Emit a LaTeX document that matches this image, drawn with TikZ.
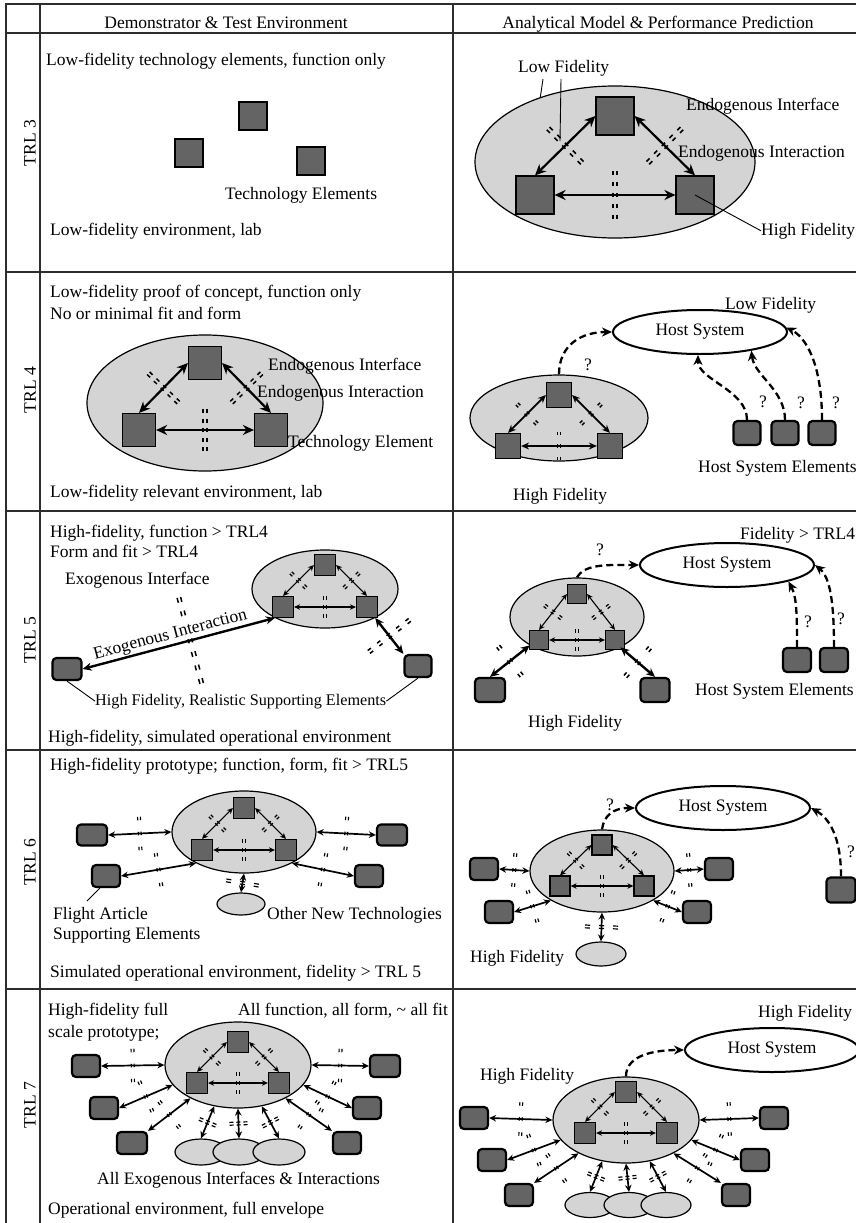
\documentclass[tikz,border=0pt]{standalone}
\usepackage{fontspec}
\setmainfont{Liberation Serif}
\usetikzlibrary{arrows.meta,calc,shapes.geometric}
\definecolor{sqgray}{RGB}{100,100,100}
\definecolor{ellgray}{RGB}{212,212,212}
\definecolor{tblc}{RGB}{45,45,45}
\newcommand{\fs}{\fontsize{17.5}{20}\selectfont}
\newcommand{\fss}{\fontsize{16.2}{19}\selectfont}
\newcommand{\mgap}{1.2pt}
\newcommand{\cml}{10.5}
% double dashed interface mark between two named points
\newcommand{\dmark}[3][]{%
  \draw[mk,#1] ($(#2)!\mgap!90:(#3)$) -- ($(#3)!\mgap!-90:(#2)$);
  \draw[mk,#1] ($(#2)!\mgap!-90:(#3)$) -- ($(#3)!\mgap!90:(#2)$);}
% interface mark across the middle of a connector
\newcommand{\xmark}[4][]{%
  \path ($(#2)!0.5!(#3)$) coordinate (xm);
  \path ($(xm)!#4pt!90:(#3)$) coordinate (xa);
  \path ($(xm)!#4pt!-90:(#3)$) coordinate (xb);
  \dmark[#1]{xa}{xb}}
% exogenous connector with its interface mark
\newcommand{\ext}[4][]{%
  \draw[earr] (#2) -- (#3);
  \xmark[emk,#1]{#2}{#3}{#4}}
% cluster: name, cx, cy, rx, ry, square size, dx, top offset, bottom offset
\newcommand{\clus}[9]{%
  \node[cl, minimum width={2*#4}, minimum height={2*#5}] (#1) at (#2,#3) {};
  \node[sq=#6] (#1t) at (#2,#3-#8) {};
  \node[sq=#6] (#1l) at (#2-#7,#3+#9) {};
  \node[sq=#6] (#1r) at (#2+#7,#3+#9) {};
  \draw[carr] (#1l.north) -- (#1t.west);
  \draw[carr] (#1t.east) -- (#1r.north);
  \draw[carr] (#1l.east) -- (#1r.west);
  \xmark[cmk]{#1l.north}{#1t.west}{\cml}
  \xmark[cmk]{#1t.east}{#1r.north}{\cml}
  \xmark[cmk]{#1l.east}{#1r.west}{\cml}}
\tikzset{
  tbl/.style={line width=1.5pt, draw=tblc},
  txt/.style={font=\fs, inner sep=0pt, anchor=base west},
  ctxt/.style={font=\fs, inner sep=0pt},
  trl/.style={font=\fs, inner sep=0pt, rotate=90},
  sq/.style={draw, fill=sqgray, line width=1.2pt, minimum size=#1, inner sep=0pt},
  sq/.default=20,
  el/.style={draw, fill=sqgray, line width=2.2pt, rounded corners=4pt, minimum width=28, minimum height=22, inner sep=0pt},
  cl/.style={draw, fill=ellgray, ellipse, line width=1.2pt, inner sep=0pt},
  host/.style={draw, ellipse, fill=white, line width=2pt, inner sep=0pt, minimum width=174, minimum height=44, font=\fs},
  harr/.style={line width=2.3pt, dash pattern=on 7pt off 4pt, -{Stealth[length=10pt,width=9pt]}},
  lead/.style={line width=0.9pt},
  thickarr/.style={line width=2.2pt, {Stealth[length=11pt,width=10pt]}-{Stealth[length=11pt,width=10pt]}},
  thinarr/.style={line width=1.1pt, {Stealth[length=6pt,width=5.5pt]}-{Stealth[length=6pt,width=5.5pt]}},
  medarr/.style={line width=1.7pt, {Stealth[length=7pt,width=6.5pt]}-{Stealth[length=7pt,width=6.5pt]}},
  bigarr/.style={line width=2.4pt, {Stealth[length=9pt,width=8pt]}-{Stealth[length=9pt,width=8pt]}},
  carr/.style={thinarr},
  earr/.style={medarr},
  mk/.style={line width=1.2pt, dash pattern=on 3pt off 6pt},
  cmk/.style={},
  emk/.style={},
}
\begin{document}
\begin{tikzpicture}[x=1pt,y=-1pt]
\useasboundingbox (0,0) rectangle (856,1223);
\fill[white] (0,0) rectangle (856,1223);

% ---------------- table ----------------
\draw[tbl] (6,1223) -- (6,4) -- (856,4);
\draw[tbl] (40,4) -- (40,1223);
\draw[tbl] (453,4) -- (453,1223);
\foreach \yy in {33,272,511,750,989} {\draw[tbl] (6,\yy) -- (856,\yy);}
\node[ctxt, anchor=base] (hd1) at (226,29) {Demonstrator \& Test Environment};
\node[ctxt, anchor=base] (hd2) at (658,29) {Analytical Model \& Performance Prediction};
\node[trl] (trl3) at (30,143) {TRL 3};
\node[trl] (trl4) at (30,390) {TRL 4};
\node[trl] (trl5) at (30,640) {TRL 5};
\node[trl] (trl6) at (30,862) {TRL 6};
\node[trl] (trl7) at (30,1105) {TRL 7};

% ---------------- TRL 3 left ----------------
\node[txt] (t3a) at (46,66) {Low-fidelity technology elements, function only};
\node[sq=28, line width=2pt] (s3a) at (253,116) {};
\node[sq=28, line width=2pt] (s3b) at (189,153) {};
\node[sq=28, line width=2pt] (s3c) at (311,161) {};
\node[txt] (t3b) at (225,199) {Technology Elements};
\node[txt] (t3c) at (50,235) {Low-fidelity environment, lab};

% ---------------- TRL 3 right ----------------
\begin{scope}[carr/.style={thickarr}, cmk/.style={line width=1.6pt, dash pattern=on 4.5pt off 6.5pt}]
\renewcommand{\cml}{24.25}\renewcommand{\mgap}{2pt}
\clus{c3}{615}{162}{140}{76}{38}{80}{46}{33}
\end{scope}
\node[txt] (lf3) at (518,72) {Low Fidelity};
\node[txt] (ei3) at (686,110) {Endogenous Interface};
\node[txt] (ex3) at (678,157) {Endogenous Interaction};
\node[txt] (hf3) at (761,235) {High Fidelity};
\coordinate (lf3a) at (543,79);
\coordinate (lf3b) at (561,79);
\coordinate (lf3c) at (560,141);
\draw[lead] (lf3a) -- (c3.139);
\draw[lead] (lf3b) -- (lf3c);
\draw[lead] (c3r.center) -- (hf3.west);

% ---------------- TRL 4 left ----------------
\node[txt] (t4a) at (50,297) {Low-fidelity proof of concept, function only};
\node[txt] (t4b) at (50,319) {No or minimal fit and form};
\begin{scope}[carr/.style={thickarr}, cmk/.style={line width=1.5pt, dash pattern=on 4pt off 5.5pt}]
\renewcommand{\cml}{21}\renewcommand{\mgap}{1.8pt}
\clus{c4}{205}{403}{118}{68}{33}{66}{40}{27}
\end{scope}
\node[txt] (ei4) at (268,370) {Endogenous Interface};
\node[txt] (ex4) at (257,397) {Endogenous Interaction};
\node[txt] (te4) at (288,447) {Technology Element};
\node[txt] (t4c) at (50,497) {Low-fidelity relevant environment, lab};

% ---------------- TRL 4 right ----------------
\node[host] (h4) at (700,332) {Host System};
\node[txt] (lf4) at (725,309) {Low Fidelity};
\begin{scope}[carr/.style={line width=1.8pt, {Stealth[length=8pt,width=7pt]}-{Stealth[length=8pt,width=7pt]}}, cmk/.style={line width=1.3pt, dash pattern=on 3.5pt off 9pt}]
\renewcommand{\cml}{14.25}\renewcommand{\mgap}{1.5pt}
\clus{c4r}{559}{418}{89}{43}{25}{51}{23}{28}
\end{scope}
\draw[harr] (c4r.north) .. controls +(0,-30) and +(-30,0) .. (h4.west);
\node[ctxt] (q4a) at (588,365) {?};
\node[el, minimum width=27, minimum height=24] (e4a) at (747,433) {};
\node[el, minimum width=27, minimum height=24] (e4b) at (785,433) {};
\node[el, minimum width=27, minimum height=24] (e4c) at (822,433) {};
\draw[harr] (e4a.north) .. controls +(0,-30) and +(0,25) .. (h4.265);
\draw[harr] (e4b.north) .. controls +(0,-30) and +(3,25) .. (h4.340);
\draw[harr] (e4c.north) .. controls +(0,-55) and +(20,10) .. (h4.3);
\node[ctxt] (q4b) at (763,402) {?};
\node[ctxt] (q4c) at (801,403) {?};
\node[ctxt] (q4d) at (836,403) {?};
\node[txt] (hse4) at (698,472) {Host System Elements};
\node[txt] (hf4) at (513,500) {High Fidelity};

% ---------------- TRL 5 left ----------------
\node[txt] (t5a) at (50,537) {High-fidelity, function > TRL4};
\node[txt] (t5b) at (50,557) {Form and fit > TRL4};
\node[txt] (xi5t) at (65,584) {Exogenous Interface};
\begin{scope}[cmk/.style={line width=1.2pt, dash pattern=on 3.5pt off 5.5pt}]
\renewcommand{\cml}{10.75}\renewcommand{\mgap}{1.4pt}
\clus{c5}{325}{589}{73}{39}{21}{42}{24}{18}
\end{scope}
\node[el, minimum width=29] (e5a) at (67,669) {};
\node[el, minimum width=27] (e5b) at (418,666) {};
\draw[bigarr] (e5a.east) -- (c5.210);
\path ($(e5a.east)!0.56!(c5.210)$) coordinate (xm5);
\path ($(xm5)!44.5pt!90:(c5.210)$) coordinate (xa5);
\path ($(xm5)!44.5pt!-90:(c5.210)$) coordinate (xb5);
\begin{scope}[mk/.style={line width=1.5pt, dash pattern=on 5pt off 9pt}]
\renewcommand{\mgap}{1.8pt}
\dmark{xa5}{xb5}
\end{scope}
\path (e5a.east) -- node[sloped, above, pos=0.47, font=\fs, inner sep=0.5pt, outer sep=1.8pt, fill=white] (exi5) {Exogenous Interaction} (c5.210);
\begin{scope}[earr/.style={bigarr}, emk/.style={line width=1.5pt, dash pattern=on 4pt off 8pt}]
\renewcommand{\mgap}{1.8pt}
\ext{c5.330}{e5b.north west}{26}
\end{scope}
\node[txt, font=\fss] (rse) at (95,705) {High Fidelity, Realistic Supporting Elements};
\draw[lead] (e5a.south) -- (rse.west);
\draw[lead] (e5b.south) -- (rse.east);
\node[txt] (t5c) at (48,742) {High-fidelity, simulated operational environment};

% ---------------- TRL 5 right ----------------
\node[txt] (ft5) at (740,539) {Fidelity > TRL4};
\node[host] (h5) at (727,565) {Host System};
\begin{scope}[cmk/.style={line width=1.2pt, dash pattern=on 3.5pt off 5.5pt}]
\renewcommand{\cml}{10.75}\renewcommand{\mgap}{1.4pt}
\clus{c5r}{577}{617}{67}{39}{19}{38}{23}{23}
\end{scope}
\draw[harr] (c5r.north) .. controls +(8,-14) and +(-30,0) .. (h5.west);
\node[ctxt] (q5a) at (600,550) {?};
\node[el, minimum width=30, minimum height=24] (e5c) at (490,690) {};
\node[el, minimum width=29, minimum height=24] (e5d) at (655,690) {};
\begin{scope}[earr/.style={bigarr}, emk/.style={line width=1.5pt, dash pattern=on 4pt off 13pt}]
\renewcommand{\mgap}{1.8pt}
\ext{e5c.north}{c5r.211}{19}
\ext{c5r.325}{e5d.north}{19}
\end{scope}
\node[el, minimum width=28, minimum height=24] (e5e) at (797,660) {};
\node[el, minimum width=28, minimum height=24] (e5f) at (834,660) {};
\draw[harr] (e5e.north) .. controls +(0,-35) and +(8,15) .. (h5.345);
\draw[harr] (e5f.north) .. controls +(0,-45) and +(15,12) .. (h5.east);
\node[ctxt] (q5b) at (808,622) {?};
\node[ctxt] (q5c) at (841,619) {?};
\node[txt] (hse5) at (695,695) {Host System Elements};
\node[txt] (hf5) at (528,727) {High Fidelity};

% ---------------- TRL 6 left ----------------
\node[txt] (t6a) at (50,770) {High-fidelity prototype; function, form, fit > TRL5};
\begin{scope}[cmk/.style={line width=1.2pt, dash pattern=on 3.5pt off 5.5pt}]
\renewcommand{\cml}{10.75}\renewcommand{\mgap}{1.4pt}
\clus{c6}{244}{832}{72}{41}{21}{42}{24}{18}
\end{scope}
\node[el, minimum width=30, minimum height=21] (e6a) at (92,835) {};
\node[el, minimum width=28, minimum height=22] (e6b) at (106,876) {};
\node[el, minimum width=30, minimum height=21] (e6c) at (392,835) {};
\node[el, minimum width=28, minimum height=22] (e6d) at (369,876) {};
\node[cl, minimum width=48, minimum height=22] (o6) at (241,904) {};
\begin{scope}[emk/.style={line width=1.2pt, dash pattern=on 3.5pt off 11.5pt}]
\renewcommand{\mgap}{1.4pt}
\ext{e6a.east}{c6.west}{16.75}
\ext{e6b.east}{c6.213}{16.75}
\ext{c6.east}{e6c.west}{16.75}
\ext{c6.327}{e6d.west}{16.75}
\ext[dash pattern=on 5pt off 9pt]{c6.south}{o6.north}{16.5}
\end{scope}
\node[txt] (fa6) at (53,919) {Flight Article};
\node[txt] (se6) at (53,939) {Supporting Elements};
\node[txt] (ont6) at (267,919) {Other New Technologies};
\coordinate (fa6p) at (87,901);
\draw[lead] ($(e6b.south)+(-6,0)$) -- (fa6p);
\node[txt] (t6c) at (50,977) {Simulated operational environment, fidelity > TRL 5};

% ---------------- TRL 6 right ----------------
\node[host] (h6) at (723,808) {Host System};
\begin{scope}[cmk/.style={line width=1.2pt, dash pattern=on 3.5pt off 5.5pt}]
\renewcommand{\cml}{10.75}\renewcommand{\mgap}{1.4pt}
\clus{c6r}{602}{871}{72}{41}{20}{42}{26}{15}
\end{scope}
\draw[harr] (c6r.north) .. controls +(2,-14) and +(-22,0) .. (h6.west);
\node[ctxt] (q6a) at (610,805) {?};
\node[el, minimum width=29, minimum height=25] (e6e) at (841,890) {};
\draw[harr] (e6e.north) .. controls +(0,-40) and +(18,10) .. (h6.east);
\node[ctxt] (q6b) at (851,852) {?};
\node[el] (e6f) at (484,869) {};
\node[el] (e6g) at (499,912) {};
\node[el] (e6h) at (719,869) {};
\node[el] (e6i) at (697,912) {};
\node[cl, minimum width=50, minimum height=24] (o6r) at (601,954) {};
\begin{scope}[emk/.style={line width=1.2pt, dash pattern=on 3.5pt off 11.5pt}]
\renewcommand{\mgap}{1.4pt}
\ext{e6f.east}{c6r.west}{16.75}
\ext{e6g.east}{c6r.210}{16.75}
\ext{c6r.east}{e6h.west}{16.75}
\ext{c6r.330}{e6i.west}{16.75}
\ext[dash pattern=on 5pt off 9pt]{c6r.south}{o6r.north}{16.5}
\end{scope}
\node[txt] (hf6) at (470,962) {High Fidelity};

% ---------------- TRL 7 left ----------------
\node[txt] (t7a) at (48,1015) {High-fidelity full};
\node[txt] (t7b) at (48,1037) {scale prototype;};
\node[txt] (t7c) at (238,1015) {All function, all form, \textasciitilde{} all fit};
\begin{scope}[cmk/.style={line width=1.2pt, dash pattern=on 3.5pt off 5.5pt}]
\renewcommand{\cml}{10.75}\renewcommand{\mgap}{1.4pt}
\clus{c7}{238}{1065}{73}{43}{21}{41}{23}{18}
\end{scope}
\node[el] (l7a) at (86,1066) {};
\node[el] (l7b) at (104,1108) {};
\node[el, minimum width=30] (l7c) at (132,1143) {};
\node[el, minimum width=30] (r7a) at (385,1066) {};
\node[el] (r7b) at (367,1108) {};
\node[el] (r7c) at (347,1143) {};
\node[cl, minimum width=52, minimum height=26] (s7a) at (201,1152) {};
\node[cl, minimum width=52, minimum height=26] (s7b) at (239,1152) {};
\node[cl, minimum width=52, minimum height=26] (s7c) at (279,1152) {};
\begin{scope}[emk/.style={line width=1.2pt, dash pattern=on 3.5pt off 11.5pt}]
\renewcommand{\mgap}{1.4pt}
\ext{l7a.east}{c7.west}{16.75}
\ext{l7b.east}{c7.197}{16.75}
\ext{l7c.north east}{c7.215}{16.75}
\ext{c7.east}{r7a.west}{16.75}
\ext{c7.343}{r7b.west}{16.75}
\ext{c7.325}{r7c.north west}{16.75}
\ext[dash pattern=on 4pt off 3pt]{c7.240}{s7a.north}{9}
\ext[dash pattern=on 4pt off 3pt]{c7.south}{s7b.north}{9}
\ext[dash pattern=on 4pt off 3pt]{c7.300}{s7c.north}{9}
\end{scope}
\node[txt] (t7d) at (97,1184) {All Exogenous Interfaces \& Interactions};
\node[txt] (t7e) at (48,1214) {Operational environment, full envelope};

% ---------------- TRL 7 right ----------------
\node[txt] (hf7a) at (758,1017) {High Fidelity};
\node[host] (h7) at (772,1050) {Host System};
\node[txt] (hf7b) at (480,1080) {High Fidelity};
\begin{scope}[cmk/.style={line width=1.2pt, dash pattern=on 3.5pt off 5.5pt}]
\renewcommand{\cml}{10.75}\renewcommand{\mgap}{1.4pt}
\clus{c7r}{626}{1120}{73}{43}{21}{41}{28}{13}
\end{scope}
\draw[harr] (c7r.north) .. controls +(0,-22) and +(-28,0) .. (h7.west);
\node[el] (l8a) at (474,1118) {};
\node[el] (l8b) at (492,1160) {};
\node[el] (l8c) at (519,1195) {};
\node[el] (r8a) at (774,1118) {};
\node[el] (r8b) at (755,1160) {};
\node[el] (r8c) at (736,1195) {};
\node[cl, minimum width=50, minimum height=25] (s8a) at (590,1205) {};
\node[cl, minimum width=50, minimum height=25] (s8b) at (629,1205) {};
\node[cl, minimum width=50, minimum height=25] (s8c) at (666,1205) {};
\begin{scope}[emk/.style={line width=1.2pt, dash pattern=on 3.5pt off 11.5pt}]
\renewcommand{\mgap}{1.4pt}
\ext{l8a.east}{c7r.west}{16.75}
\ext{l8b.east}{c7r.197}{16.75}
\ext{l8c.north east}{c7r.215}{16.75}
\ext{c7r.east}{r8a.west}{16.75}
\ext{c7r.343}{r8b.west}{16.75}
\ext{c7r.325}{r8c.north west}{16.75}
\ext[dash pattern=on 4pt off 3pt]{c7r.240}{s8a.north}{9}
\ext[dash pattern=on 4pt off 3pt]{c7r.south}{s8b.north}{9}
\ext[dash pattern=on 4pt off 3pt]{c7r.300}{s8c.north}{9}
\end{scope}
\end{tikzpicture}
\end{document}
